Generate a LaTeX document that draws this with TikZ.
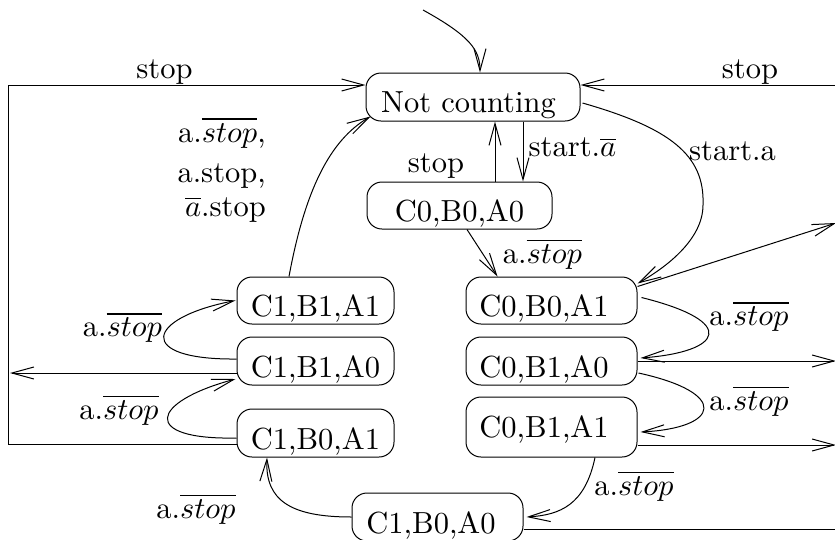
\RequirePackage{fix-cm}
\documentclass[tikz,border=0pt]{standalone}
\usetikzlibrary{arrows.meta}
\newcommand\sbx[1]{\scalebox{3.05}{#1}}
\begin{document}
\begin{tikzpicture}[x=1pt,y=-1pt,
  every node/.style={font=\fontsize{10}{12}\selectfont, inner sep=0pt},
  state/.style={draw, rounded corners=15pt, line width=1pt, minimum height=48pt, text height=32pt, text depth=0pt},
  arr/.style={-{Straight Barb[length=22pt,width=12pt]}, line width=1pt}]
\useasboundingbox (0,0) rectangle (835,539);
\clip (0,0) rectangle (835,539);

% states
\node[state, minimum width=214pt, text height=30pt] (nc) at (473,97) {\hspace*{-9pt}\sbx{Not counting}};
\node[state, minimum width=185pt, minimum height=47pt] (c000) at (459.5,205.5) {\sbx{C0,B0,A0}};
\node[state, minimum width=157pt, minimum height=47pt] (c111) at (315.5,300.5) {\sbx{C1,B1,A1}};
\node[state, minimum width=157pt] (c110) at (315.5,361) {\sbx{C1,B1,A0}};
\node[state, minimum width=157pt] (c101) at (315.5,433) {\sbx{C1,B0,A1}};
\node[state, minimum width=171pt] (c100) at (437.5,517) {\hspace*{-13pt}\sbx{C1,B0,A0}};
\node[state, minimum width=171pt, minimum height=47pt] (c001) at (551.5,300.5) {\hspace*{-15pt}\sbx{C0,B0,A1}};
\node[state, minimum width=171pt] (c010) at (551.5,361) {\hspace*{-15pt}\sbx{C0,B1,A0}};
\node[state, minimum width=171pt, minimum height=60pt, text height=20pt] (c011) at (551.5,427) {\hspace*{-15pt}\sbx{C0,B1,A1}};

% free ends
\coordinate (init) at (423,10);
\coordinate (lcorner) at (8,85);
\coordinate (lexit) at (10,373);
\coordinate (rtop) at (850,85);
\coordinate (rbot) at (850,529);
\coordinate (rout1) at (836,223);
\coordinate (rout2) at (836,361);
\coordinate (rout3) at (836,445);

% connectors
\draw[arr] (init) .. controls (470,36) and (480,50) .. ([xshift=7pt]nc.north);
\draw[arr] ([yshift=-11pt]c101.west) -| (lcorner) -- ([yshift=12pt]nc.west);
\draw[arr] ([yshift=-12pt]c110.west) -- (lexit);
\draw[arr] ([yshift=-12pt]c100.east) -- (rbot) -- (rtop) -- ([yshift=12pt]nc.east);
\draw[arr] ([xshift=2pt,yshift=-6pt]nc.east) .. controls (670,128) and (705,155) .. (703,205)
  .. controls (703,240) and (665,268) .. ([yshift=17pt]c001.east);
\draw[arr] ([yshift=14pt]c001.east) -- (rout1);
\draw[arr] ([xshift=35.5pt]c000.north) -- ([xshift=22pt]nc.south);
\draw[arr] ([xshift=50pt]nc.south) -- ([xshift=63.5pt]c000.north);
\draw[arr] ([xshift=7.5pt]c000.south) -- ([xshift=-54pt]c001.north);
\draw[arr] ([xshift=4pt,yshift=3pt]c001.east) .. controls (740,322) and (722,352) .. ([xshift=3pt,yshift=3pt]c010.east);
\draw[arr] (c010.east) -- (rout2);
\draw[arr] ([xshift=1pt,yshift=-12pt]c010.east) .. controls (730,393) and (720,428) .. ([xshift=3pt,yshift=-5pt]c011.east);
\draw[arr] ([yshift=-18pt]c011.east) -- (rout3);
\draw[arr] ([xshift=43.5pt]c011.south) .. controls (585,505) and (560,515) .. ([xshift=3pt]c100.east);
\draw[arr] (c100.west) .. controls (290,517) and (265,500) .. ([xshift=-48.5pt]c101.south);
\draw[arr] ([yshift=-5pt]c101.west) .. controls (140,440) and (150,402) .. ([xshift=-1pt,yshift=-18pt]c110.west);
\draw[arr] ([yshift=2pt]c110.west) .. controls (135,360) and (145,318) .. ([xshift=-1pt]c111.west);
\draw[arr] ([xshift=-26.5pt]c111.north) .. controls (305,190) and (330,140) .. ([xshift=5pt,yshift=5pt]nc.south west);

% labels
\node (lstopL) at (164.5,72) {\sbx{stop}};
\node (lstopR) at (750,72) {\sbx{stop}};
\node[anchor=base east] (lm1) at (266,142) {\sbx{a.$\overline{stop}$,}};
\node[anchor=base east] (lm2) at (266,182) {\sbx{a.stop,}};
\node[anchor=base east] (lm3) at (266,216) {\sbx{$\overline{a}$.stop}};
\node (lstopM) at (436,166) {\sbx{stop}};
\node (lstartabar) at (572.5,147.5) {\sbx{start.$\overline{a}$}};
\node (lstarta) at (732.5,151) {\sbx{start.a}};
\node (la1) at (542.5,254) {\sbx{a.$\overline{stop}$}};
\node (la2) at (749,316.5) {\sbx{a.$\overline{stop}$}};
\node (la3) at (749,401) {\sbx{a.$\overline{stop}$}};
\node (la4) at (634,486) {\sbx{a.$\overline{stop}$}};
\node (la5) at (122.5,327.5) {\sbx{a.$\overline{stop}$}};
\node (la6) at (119,410) {\sbx{a.$\overline{stop}$}};
\node (la7) at (196,509) {\sbx{a.$\overline{stop}$}};
\end{tikzpicture}
\end{document}
